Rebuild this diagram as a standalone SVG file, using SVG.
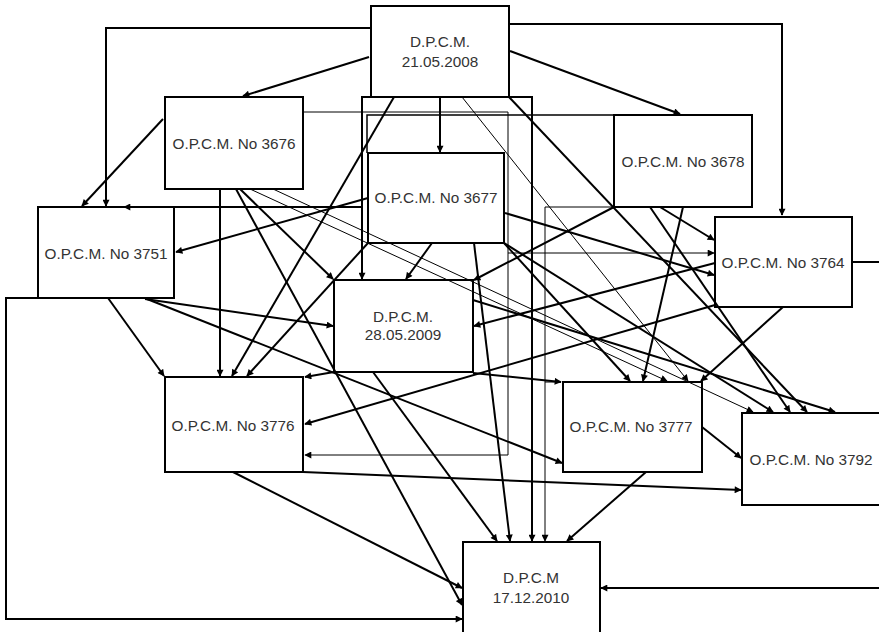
<svg xmlns="http://www.w3.org/2000/svg" width="879" height="632" viewBox="0 0 879 632">
<defs>
<marker id="ah" viewBox="0 0 10 10" refX="9" refY="5" markerWidth="8" markerHeight="7" markerUnits="userSpaceOnUse" orient="auto"><path d="M0,0 L10,5 L0,10 z" fill="#000"/></marker>
<style>
.n rect{fill:none;stroke:#000;stroke-width:2}
.n text{font-family:"Liberation Sans",Arial,sans-serif;font-size:15.3px;fill:#333;text-anchor:middle}
.c line,.c polyline{stroke:#000;stroke-width:2;fill:none}
.c .t{stroke-width:1}
.c .a{marker-end:url(#ah)}
</style>
</defs>
<rect width="879" height="632" fill="#fff"/>
<g id="connectors" class="c">
<polyline class="a" points="371,28 106,28 106,206"/>
<polyline class="a" points="509,24 782,24 782,215"/>
<line class="a" x1="369" y1="57" x2="243" y2="96"/>
<line class="a" x1="510" y1="51" x2="680" y2="114"/>
<line class="a" x1="440" y1="97" x2="440" y2="152"/>
<line class="a" x1="394" y1="97" x2="232" y2="376"/>
<line class="a" x1="368" y1="243" x2="247" y2="376"/>
<line class="a" x1="509" y1="97" x2="807" y2="412"/>
<line class="t a" x1="462" y1="97" x2="688" y2="381"/>
<line class="a" x1="163" y1="119" x2="82" y2="206"/>
<line class="a" x1="220" y1="189" x2="220" y2="376"/>
<line class="a" x1="240" y1="189" x2="333" y2="279"/>
<line class="a" x1="236" y1="189" x2="462" y2="605"/>
<line class="t a" x1="250" y1="189" x2="667" y2="381"/>
<line class="t a" x1="273" y1="189" x2="753" y2="412"/>
<polyline class="t a" points="303,112 508,112 508,455 305,455"/>
<line class="t a" x1="508" y1="253" x2="714" y2="253"/>
<polyline style="stroke-width:1.5" points="614,115 367,115 367,153"/>
<polyline class="a" points="371,97 362,97 362,279"/>
<line class="a" x1="362" y1="207" x2="124" y2="207"/>
<polyline class="a" points="509,97 532,97 532,541"/>
<polyline class="t" points="614,207 545,207 545,382 561,382"/>
<line class="t a" x1="545" y1="382" x2="545" y2="541"/>
<line class="a" x1="368" y1="198" x2="176" y2="252"/>
<line class="a" x1="432" y1="243" x2="406" y2="279"/>
<line class="a" x1="505" y1="213" x2="714" y2="275"/>
<line class="a" x1="504" y1="243" x2="773" y2="412"/>
<line class="a" x1="504" y1="243" x2="630" y2="381"/>
<line class="a" x1="474" y1="243" x2="510" y2="541"/>
<line class="a" x1="614" y1="207" x2="474" y2="280"/>
<line class="a" x1="683" y1="207" x2="643" y2="381"/>
<line class="a" x1="650" y1="207" x2="790" y2="412"/>
<line class="a" x1="660" y1="207" x2="714" y2="240"/>
<line class="a" x1="715" y1="263" x2="474" y2="326"/>
<line class="a" x1="715" y1="305" x2="305" y2="424"/>
<line class="a" x1="783" y1="307" x2="701" y2="381"/>
<line x1="852" y1="262" x2="879" y2="262"/>
<line class="a" x1="879" y1="588" x2="601" y2="588"/>
<line class="a" x1="108" y1="298" x2="164" y2="376"/>
<line class="a" x1="145" y1="299" x2="333" y2="326"/>
<line class="a" x1="147" y1="299" x2="562" y2="463"/>
<polyline class="a" points="38,298 6,298 6,619 462,619"/>
<line class="a" x1="334" y1="372" x2="305" y2="377"/>
<line class="a" x1="473" y1="373" x2="561" y2="382"/>
<line class="a" x1="373" y1="372" x2="497" y2="541"/>
<line class="a" x1="702" y1="427" x2="741" y2="458"/>
<line class="a" x1="303" y1="472" x2="741" y2="490"/>
<line class="a" x1="233" y1="472" x2="462" y2="588"/>
<line class="a" x1="646" y1="472" x2="567" y2="541"/>
<line class="a" x1="473" y1="300" x2="835" y2="412"/>
</g>
<g id="n1" class="n"><rect x="371" y="6" width="138" height="91"/><text x="440" y="47">D.P.C.M.</text><text x="440" y="67">21.05.2008</text></g>
<g id="n2" class="n"><rect x="165" y="97" width="138" height="92"/><text x="234" y="149">O.P.C.M. No 3676</text></g>
<g id="n3" class="n"><rect x="368" y="153" width="136" height="90"/><text x="436" y="203">O.P.C.M. No 3677</text></g>
<g id="n4" class="n"><rect x="614" y="115" width="138" height="92"/><text x="683" y="167">O.P.C.M. No 3678</text></g>
<g id="n5" class="n"><rect x="38" y="207" width="136" height="91"/><text x="106" y="259">O.P.C.M. No 3751</text></g>
<g id="n6" class="n"><rect x="715" y="217" width="137" height="90"/><text x="783" y="268">O.P.C.M. No 3764</text></g>
<g id="n7" class="n"><rect x="334" y="280" width="139" height="92"/><text x="403" y="322">D.P.C.M.</text><text x="403" y="340">28.05.2009</text></g>
<g id="n8" class="n"><rect x="165" y="377" width="138" height="95"/><text x="233" y="431">O.P.C.M. No 3776</text></g>
<g id="n9" class="n"><rect x="563" y="382" width="139" height="90"/><text x="631" y="432">O.P.C.M. No 3777</text></g>
<g id="n10" class="n"><rect x="742" y="413" width="140" height="92"/><text x="811" y="465">O.P.C.M. No 3792</text></g>
<g id="n11" class="n"><rect x="463" y="542" width="137" height="95"/><text x="531" y="583">D.P.C.M</text><text x="531" y="603">17.12.2010</text></g>
</svg>
